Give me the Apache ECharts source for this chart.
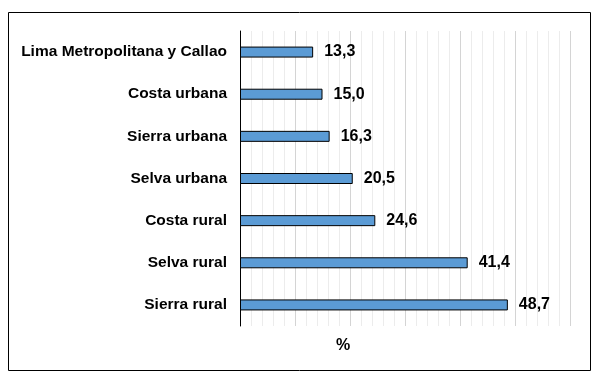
<!DOCTYPE html>
<html>
<head>
<meta charset="utf-8">
<script src="https://cdn.jsdelivr.net/npm/echarts@6/dist/echarts.min.js"></script>
<style>
html, body { margin: 0; padding: 0; background: #fff; }
#chart { width: 599px; height: 380px; }
</style>
</head>
<body>
<div id="chart"></div>
<script>
// categories listed bottom to top (echarts category axis order)
var regions = ["Sierra rural", "Selva rural", "Costa rural", "Selva urbana",
               "Sierra urbana", "Costa urbana", "Lima Metropolitana y Callao"];
var values = [48.7, 41.4, 24.6, 20.5, 16.3, 15.0, 13.3];

var myChart = echarts.init(document.getElementById("chart"));
var option = {
    backgroundColor: "#fff",
    animation: false,
    graphic: [{
        type: "rect",
        shape: { x: 8.5, y: 12.5, width: 582, height: 358 },
        style: { fill: "none", stroke: "#000", lineWidth: 1 }
    }],
    grid: { left: 240, right: 29, top: 31, bottom: 54 },
    xAxis: {
        type: "value",
        min: 0, max: 60, interval: 10,
        name: "%",
        nameLocation: "middle",
        nameGap: 12,
        nameTextStyle: { fontFamily: "Liberation Sans", fontWeight: "bold", fontSize: 16, color: "#000", padding: [0, 124, 0, 0] },
        axisLine: { show: false },
        axisTick: { show: false },
        axisLabel: { show: false },
        splitLine: { show: true, lineStyle: { color: "#d4d4d4", width: 1 } },
        minorTick: { show: false, splitNumber: 5 },
        minorSplitLine: { show: true, lineStyle: { color: "#ececec", width: 1 } }
    },
    yAxis: {
        type: "category",
        data: regions,
        axisLine: { show: true, lineStyle: { color: "#000", width: 1 } },
        axisTick: { show: false },
        axisLabel: { margin: 13, fontFamily: "Liberation Sans", fontWeight: "bold", fontSize: 15.5, color: "#000" }
    },
    series: [{
        type: "bar",
        data: values,
        barWidth: 11,
        itemStyle: { color: "#5b9bd5", borderColor: "#000", borderWidth: 1 },
        label: {
            show: true,
            position: "right",
            distance: 11,
            fontFamily: "Liberation Sans",
            fontWeight: "bold",
            fontSize: 16,
            color: "#000",
            formatter: function (p) { return p.value.toFixed(1).replace(".", ","); }
        }
    }]
};
myChart.setOption(option);
</script>
</body>
</html>
